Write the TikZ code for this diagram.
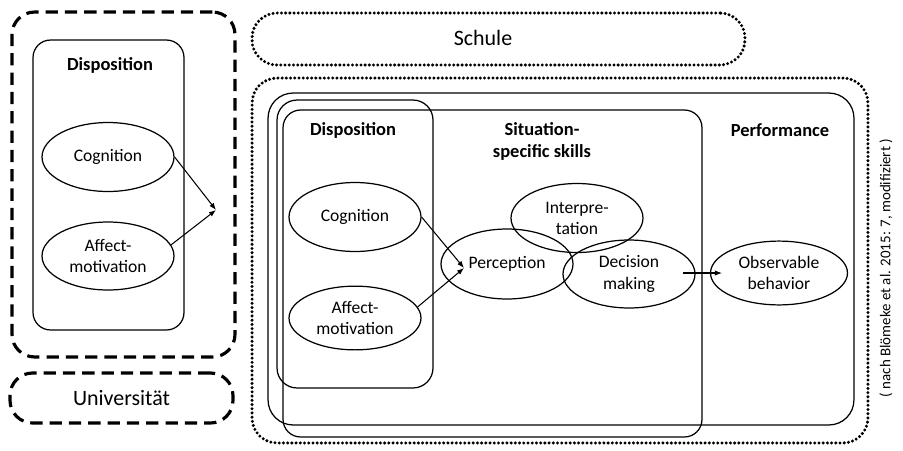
\documentclass[tikz,border=0pt]{standalone}
\usepackage{fontspec}
\setmainfont{Carlito}
\usepackage{tikz}
\usetikzlibrary{shapes,arrows.meta,positioning,calc}
\tikzset{
    dashbox/.style={rectangle, draw, line width=1.8pt, dash pattern=on 7pt off 4pt, rounded corners=0.45cm},
    dotbox/.style={rectangle, draw, line width=1.9pt, line cap=round, dash pattern=on 0pt off 2.4pt, rounded corners=0.5cm},
    box/.style={rectangle, draw, line width=0.7pt},
    skill/.style={ellipse, draw, line width=0.7pt, minimum width=2.64cm, minimum height=1.38cm, align=center, font=\fontsize{10}{12}\selectfont},
    title/.style={align=center, font=\fontsize{10.5}{12.5}\selectfont\bfseries},
    place/.style={font=\fontsize{12.5}{14}\selectfont},
    line/.style={draw, line width=0.6pt, -{Latex[length=4pt,width=3pt]}}
}

\begin{document}
\begin{tikzpicture}[x=0.02cm, y=-0.02cm]
    \useasboundingbox (0,0) rectangle (903,450);

    % Universitaet
    \node [dashbox, minimum width=4.46cm, minimum height=6.9cm] (unibig) at (123.5,184.5) {};
    \node [box, rounded corners=0.35cm, minimum width=3.02cm, minimum height=5.8cm] (disp1) at (108.5,185) {};
    \node [title] (disp1title) at (110,65) {Disposition};
    \node [skill] (cog1) at (108,157) {Cognition};
    \node [skill, minimum height=1.36cm] (aff1) at (108,256) {Affect-\\motivation};
    \coordinate (join1) at (216,210);
    \path [line] (cog1.east) -- (join1);
    \path [line] (aff1.10) -- (join1);
    \node [dashbox, place, minimum width=4.46cm, minimum height=1.0cm] (unilabel) at (121.5,398) {Universität};

    % Schule
    \node [dotbox, minimum width=9.86cm, minimum height=1.04cm] (schulebox) at (498.5,39) {};
    \node [place] (schule) at (483,38) {Schule};
    \node [dotbox, minimum width=12.32cm, minimum height=7.3cm] (schulebig) at (560,260.5) {};

    % Boxes
    \node [box, rounded corners=0.5cm, minimum width=11.72cm, minimum height=6.64cm] (perf) at (561,259) {};
    \node [box, rounded corners=0.4cm, minimum width=3.12cm, minimum height=5.76cm] (disp2) at (355,244) {};
    \node [box, rounded corners=0.35cm, minimum width=8.38cm, minimum height=6.54cm] (sit) at (492.5,273.5) {};

    % Titles
    \node [title] (disp2title) at (353,130) {Disposition};
    \node [title] (sittitle) at (542,141) {Situation-\\specific skills};
    \node [title] (perftitle) at (780,130) {Performance};

    % Skills
    \node [skill] (cog2) at (355,217) {Cognition};
    \node [skill, minimum height=1.26cm] (aff2) at (355,318) {Affect-\\motivation};
    \node [skill, minimum height=1.4cm] (perc) at (507,264) {Perception};
    \node [skill] (interp) at (577,218) {Interpre-\\tation};
    \node [skill, minimum height=1.36cm] (dec) at (629,274) {Decision\\making};
    \node [skill, minimum width=2.74cm, minimum height=1.2cm] (obs) at (779,273) {Observable\\behavior};

    % Arrows
    \coordinate (join2) at (464,268);
    \path [line] (cog2.east) -- (join2);
    \path [line] (aff2.10) -- (join2);
    \coordinate (decout) at (683,273);
    \coordinate (obsin) at (722,273);
    \path [line] (decout) -- (obsin);

    % Source
    \node [rotate=90, font=\fontsize{8.5}{10}\selectfont] (source) at (886,268) {( nach Blömeke et al. 2015: 7, modifiziert )};
\end{tikzpicture}
\end{document}
